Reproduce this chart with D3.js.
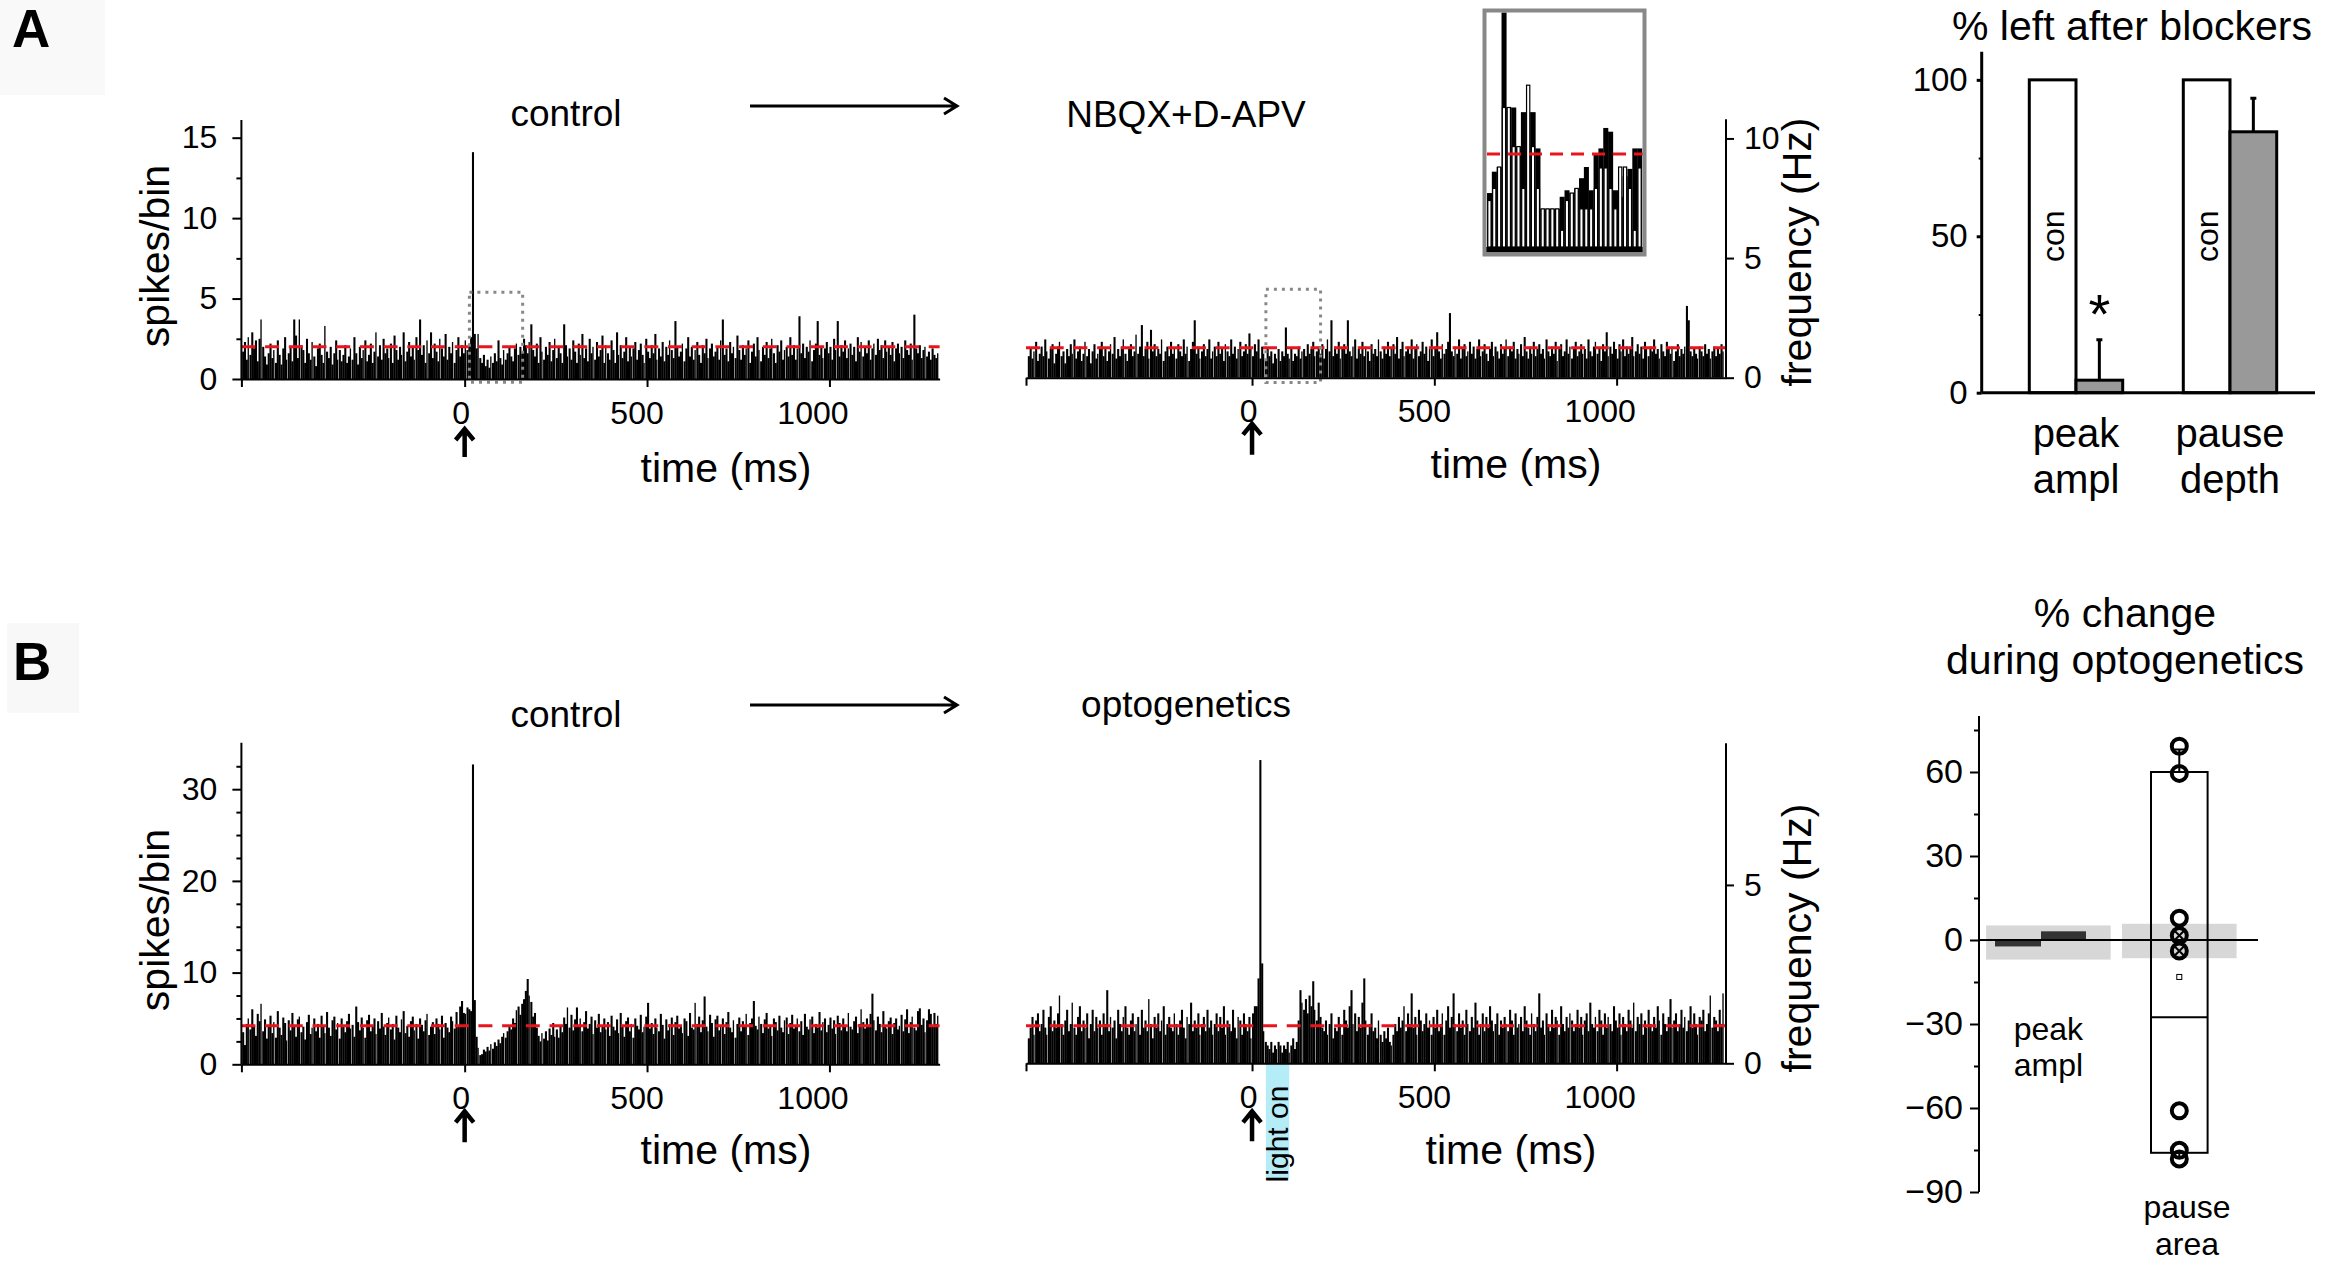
<!DOCTYPE html>
<head>
<meta charset="utf-8">
<style>
  body { margin: 0; background: #fff; }
  svg text { font-family: "Liberation Sans", Arial, Helvetica, sans-serif; fill: #000; }
  .axis path, .axis line { stroke: #000; stroke-width: 2px; fill: none; }
  .axis text { font-family: "Liberation Sans", Arial, Helvetica, sans-serif; }
</style>
<title>PSTH figure</title>
<script src="https://d3js.org/d3.v7.min.js"></script>
</head>
<body>
<svg id="fig" width="2325" height="1268"></svg>
<script>
// ---- data ----
var BIN = 5; // ms per bin

// A, control (spikes/bin), bins from -610 ms
var aControl = [
1.7,2.3,1.2,2.6,1.5,2.9,1.9,2.4,1.1,2.5,3.7,2.0,1.4,0.9,1.6,2.2,1.3,1.8,1.0,2.4,
1.5,0.9,1.9,2.6,1.2,1.6,2.0,1.1,3.7,2.7,1.3,3.7,2.1,1.8,1.0,2.5,1.6,1.2,2.3,1.4,
0.8,1.9,2.2,1.5,1.0,3.3,1.7,1.3,2.0,0.9,1.6,2.4,1.2,1.8,1.1,1.5,2.1,1.0,1.4,1.9,
1.2,2.6,1.6,0.9,2.0,1.3,1.8,2.4,1.1,1.5,2.2,1.0,1.7,2.9,1.4,2.1,1.2,2.5,1.6,1.9,
1.3,2.2,1.0,2.7,1.8,1.2,2.0,1.5,2.9,1.1,1.7,2.3,1.4,2.0,1.2,2.6,1.8,3.7,1.5,2.1,
1.0,2.4,1.6,2.9,1.3,2.2,1.7,1.1,2.5,1.9,1.4,2.8,1.2,2.0,1.6,2.3,1.0,1.8,2.6,1.4,
2.1,1.6,2.4,1.8,2.2,2.6,14.1,2.8,1.9,2.8,1.3,1.0,1.5,0.8,1.2,0.7,1.4,1.0,1.6,1.1,
2.4,1.3,0.9,1.8,1.2,1.6,2.0,1.4,1.1,1.9,2.2,1.5,2.0,1.7,2.5,2.1,1.6,2.3,3.4,1.8,
1.4,2.2,1.0,2.6,1.7,1.2,2.0,1.5,2.3,1.1,1.8,2.5,1.3,2.0,1.6,1.0,3.4,2.1,1.4,1.9,
1.2,2.4,1.7,1.0,2.2,1.5,2.8,1.3,1.9,1.1,2.5,1.6,2.0,1.2,2.3,1.4,1.8,2.7,1.0,2.1,
1.6,1.2,2.4,1.8,1.0,2.9,1.5,2.1,1.3,1.7,2.6,1.1,2.0,1.4,1.9,2.3,1.2,1.8,2.2,1.5,
1.0,2.5,1.7,1.3,2.1,1.6,2.8,1.2,1.9,1.4,2.3,1.1,2.0,1.5,2.4,1.8,1.3,3.6,2.0,1.4,
1.7,2.2,1.1,1.9,2.6,1.4,2.0,1.2,1.8,2.3,1.5,1.0,2.1,1.6,2.5,1.3,1.9,2.2,1.4,1.7,
2.0,1.2,2.4,3.7,1.5,1.9,1.1,2.3,1.6,2.0,1.3,2.7,1.8,1.2,2.1,1.5,1.9,2.4,1.0,1.7,
2.2,1.4,2.6,1.8,1.1,2.0,1.5,2.3,1.3,1.9,2.5,1.6,1.0,2.1,1.7,2.4,1.2,1.8,2.0,1.4,
2.6,1.5,2.1,1.2,1.9,3.9,1.6,2.2,1.3,2.0,1.7,2.4,1.1,1.8,2.2,3.6,1.5,2.0,1.3,1.9,
2.3,1.6,2.0,1.2,2.5,1.8,3.6,1.4,2.1,1.7,2.4,1.3,1.9,2.2,1.5,2.0,1.1,2.6,1.7,2.3,
1.4,2.0,1.6,2.4,1.2,1.9,2.2,1.5,2.5,1.8,2.1,1.3,2.4,1.7,2.0,1.5,2.3,1.1,1.9,2.2,
1.6,2.0,1.3,2.4,1.8,1.5,2.2,1.2,4.0,1.9,1.6,2.1,1.3,1.8,2.0,1.4,1.7,1.2,1.9,1.5,
1.3,1.6];
var aControlMean = 2.0;

// A, NBQX+D-APV (Hz), bins from -615 ms
var aBlocker = [
0.9,1.2,0.8,1.1,1.5,0.7,1.0,1.3,0.9,1.6,1.1,0.8,1.2,1.4,0.6,1.0,1.3,1.5,0.9,1.1,
0.6,1.2,0.9,1.4,1.0,1.6,0.8,1.1,1.3,0.7,1.0,1.5,0.9,1.2,0.6,1.1,1.4,0.8,1.0,1.3,
1.5,0.9,1.2,0.7,1.1,1.4,1.0,1.7,0.8,1.2,0.9,1.3,1.6,1.0,0.7,1.2,1.4,0.9,1.1,1.8,
1.0,1.3,2.2,0.9,1.2,1.5,0.8,2.0,1.1,1.4,0.9,1.2,1.0,1.6,0.7,1.1,1.3,0.9,1.5,1.0,
1.2,0.8,1.4,1.1,0.9,1.6,1.0,1.3,0.7,1.2,1.5,2.4,1.0,1.3,0.8,1.1,1.4,0.9,1.2,1.6,
0.8,1.1,1.3,0.9,1.5,1.0,1.2,0.7,1.4,1.1,0.9,1.6,1.0,1.3,0.8,1.2,1.5,0.9,1.1,1.4,
1.0,1.85,1.2,0.9,1.4,1.1,1.6,0.8,1.3,1.0,0.7,1.2,0.9,1.1,0.6,1.0,0.8,1.2,0.7,1.1,
0.9,2.1,1.0,0.8,1.2,0.7,1.0,0.9,1.3,0.8,1.1,1.2,0.9,1.4,1.0,1.2,1.5,0.9,1.1,1.3,
1.0,1.4,0.8,1.2,1.6,1.1,2.4,0.9,1.3,1.0,1.5,0.8,1.2,1.4,1.0,2.4,1.1,0.9,1.3,1.6,
0.8,1.2,1.0,1.5,0.9,1.3,1.1,0.7,1.4,1.0,1.2,0.9,1.6,1.1,0.8,1.3,1.0,1.5,0.9,1.2,
1.4,1.0,1.7,0.8,1.2,1.5,0.9,1.1,1.3,1.0,1.6,0.8,1.2,1.4,0.9,1.1,1.5,1.0,1.3,0.7,
1.2,1.6,0.9,1.3,1.9,1.1,0.8,1.4,1.0,1.2,1.5,2.7,1.1,0.9,1.3,1.0,1.6,0.8,1.2,1.4,
0.9,1.1,1.5,1.0,1.3,0.8,1.2,1.6,0.9,1.1,1.4,1.0,0.7,1.2,1.5,0.9,1.3,1.1,0.8,1.4,
1.0,1.2,1.6,0.9,1.3,1.1,1.5,0.8,1.2,1.0,1.4,0.9,1.7,1.1,0.8,1.3,1.0,1.5,0.9,1.2,
1.4,1.0,1.2,0.8,1.6,1.1,0.9,1.3,1.0,1.5,0.7,1.2,1.4,0.9,1.1,1.6,1.0,1.3,0.8,1.2,
1.5,0.9,1.1,1.4,1.0,1.2,0.8,1.6,1.1,0.9,1.3,1.5,1.0,1.2,0.7,1.4,1.1,1.9,0.9,1.3,
1.0,1.5,1.2,0.8,1.4,1.1,1.6,0.9,1.3,1.0,1.2,1.7,0.9,1.1,1.4,1.0,1.3,0.8,1.5,1.2,
0.9,1.3,1.1,1.6,1.0,1.2,0.8,1.4,1.1,0.9,1.5,1.2,1.0,1.3,0.7,1.1,1.4,0.9,1.2,1.0,
1.3,3.0,2.4,1.1,0.9,1.2,1.0,0.8,1.3,1.1,0.9,1.4,1.0,1.2,0.8,1.1,1.3,0.9,1.2,1.0,
1.4,1.1];
var aBlockerMean = 1.25;

// inset: 0-160 ms window, relative to baseline (1 = red line)
var insetControl = [0.58,0.81,0.86,2.6,1.5,1.5,1.08,1.45,1.45,1.45,1.06,0.41,0.41,0.41,0.41,0.54,
                    0.61,0.58,0.63,0.74,0.86,0.61,1.01,1.06,1.28,1.24,0.61,0.54,0.76,0.84,1.06,1.06];
var insetBlocker = [0.5,0.63,0.86,1.5,1.5,1.08,1.08,0.63,1.74,1.08,0.63,0.41,0.41,0.41,0.41,0.18,
                    0.5,0.58,0.63,0.41,0.41,0.41,0.63,0.85,0.85,0.63,0.41,0.86,0.86,0.63,0.18,0.85];

// B, control (spikes/bin), bins from -610 ms
var bControl = [
3.5,2.1,4.4,5.0,3.8,6.0,4.2,3.1,5.5,4.7,6.6,3.6,4.9,2.8,4.1,5.3,3.4,4.6,2.9,5.8,
4.0,3.2,5.1,4.5,2.6,4.8,3.7,5.6,4.3,3.0,4.9,5.2,3.5,4.1,2.7,4.6,5.4,3.3,4.0,5.0,
3.6,4.4,2.9,5.3,4.1,3.4,5.7,4.0,3.1,4.8,5.2,3.8,4.5,2.8,5.0,4.2,3.5,4.7,5.5,3.9,
4.3,3.0,6.3,4.6,3.7,5.1,4.0,2.9,4.8,5.4,3.6,4.2,5.0,3.3,4.7,3.9,5.6,4.1,3.2,4.5,
5.1,3.8,4.4,2.7,5.3,4.0,3.5,4.9,5.8,3.4,4.2,3.0,4.7,5.2,3.7,4.4,2.8,5.0,4.3,3.6,
4.8,5.5,3.2,4.1,4.6,3.3,5.0,4.4,3.8,5.3,2.9,4.5,4.0,3.5,5.2,4.7,3.9,5.7,4.2,6.3,
6.9,5.6,5.5,6.2,6.0,5.8,32.7,7.0,3.0,1.8,1.0,1.1,1.6,1.4,1.9,1.5,2.2,1.7,2.4,2.0,
2.7,2.3,3.0,3.4,2.9,3.6,4.1,3.8,5.0,4.5,5.9,6.3,5.4,6.6,7.1,8.0,9.3,7.5,6.8,5.2,
5.6,4.0,3.1,2.5,3.4,2.8,3.6,2.6,3.9,3.2,4.5,3.0,3.8,2.9,4.2,3.5,5.1,4.4,6.2,4.0,
5.4,3.7,4.9,6.2,4.3,5.0,3.6,4.6,5.8,3.9,4.4,5.2,3.3,4.8,4.0,5.5,3.5,4.2,5.0,3.8,
4.6,3.1,5.3,4.1,3.7,4.9,3.4,5.6,4.3,3.0,4.7,5.1,3.6,4.4,2.9,5.0,4.2,3.8,5.4,3.5,
4.1,5.2,6.7,3.9,4.5,3.3,5.0,4.0,3.6,5.5,4.3,2.8,4.9,3.7,4.4,5.1,3.2,4.6,5.3,3.9,
4.2,3.4,5.0,4.7,3.1,5.6,4.0,3.8,6.7,4.4,5.2,3.5,4.8,7.4,4.1,3.6,5.4,4.5,3.0,4.9,
5.3,3.7,4.3,5.0,3.3,4.6,5.7,4.0,3.5,4.8,2.9,4.4,5.1,3.6,4.7,4.1,5.5,3.2,4.5,5.0,
6.9,4.2,3.8,5.2,4.4,3.4,4.9,5.6,3.9,4.3,3.1,5.0,4.6,3.7,5.3,4.0,3.5,4.8,5.1,3.3,
4.5,5.4,3.9,4.2,5.0,3.6,4.7,3.2,5.5,4.1,3.8,4.9,5.2,3.4,4.4,4.0,5.7,3.7,4.6,5.0,
3.5,4.3,5.1,3.9,4.8,3.3,5.3,4.5,3.7,5.0,4.2,3.6,5.6,4.1,3.8,4.7,5.2,3.4,4.4,6.0,
4.6,3.9,5.0,4.3,5.5,7.7,4.8,3.7,5.2,4.4,3.5,5.8,4.1,3.9,4.7,5.1,3.3,4.5,5.0,3.8,
4.2,5.4,3.6,4.9,6.0,3.4,4.6,5.2,4.0,3.7,5.8,6.1,4.3,5.0,3.5,4.8,6.0,5.5,4.1,5.6,
4.4,5.3];
var bControlMean = 4.2;

// B, optogenetics (Hz), bins from -615 ms
var bOpto = [
0.7,1.0,1.3,0.8,1.2,1.4,0.9,1.1,1.5,1.0,0.8,1.3,1.6,0.9,1.2,1.0,1.4,1.9,1.1,0.8,
1.2,1.5,0.9,1.1,1.7,1.0,0.8,1.3,1.6,0.9,1.2,1.0,1.4,0.7,1.1,1.5,0.9,1.3,1.0,1.2,
0.8,1.4,1.1,2.05,0.9,1.3,1.0,1.2,0.7,1.5,1.1,0.9,1.3,1.6,1.0,0.8,1.2,1.4,0.9,1.1,
1.3,0.8,1.5,1.0,1.2,0.9,1.8,1.1,0.7,1.3,1.0,1.4,0.9,1.2,1.6,0.8,1.1,1.3,1.0,0.9,
1.4,1.1,0.8,1.2,1.5,1.0,0.7,1.3,1.1,1.7,0.9,1.2,1.0,1.4,0.8,1.1,1.3,0.9,1.5,1.0,
1.2,0.8,1.1,1.4,0.9,1.3,1.0,1.6,0.8,1.2,1.1,0.9,1.5,1.0,0.7,1.3,1.2,0.8,1.4,1.1,
0.9,1.3,0.7,1.4,1.6,1.6,2.38,8.5,2.8,0.9,0.6,0.5,0.4,0.6,0.3,0.5,0.4,0.6,0.5,0.3,
0.5,0.4,0.6,0.3,0.5,0.7,0.4,0.6,1.2,2.05,1.7,1.5,1.8,1.4,1.9,1.6,2.3,1.5,1.2,1.7,
1.3,1.0,0.9,1.2,0.8,1.1,1.4,0.7,1.0,0.9,1.3,1.1,0.8,1.5,1.2,1.0,1.6,2.05,1.1,1.4,
0.9,1.3,1.0,1.7,2.38,1.2,0.8,1.1,1.4,0.9,1.0,0.7,1.2,0.8,0.6,0.9,0.7,1.0,0.6,0.5,
0.8,1.1,0.9,1.3,1.0,1.2,1.6,0.9,1.4,1.1,1.96,1.0,1.3,0.8,1.5,1.2,0.9,1.1,1.4,1.0,
1.2,0.8,1.3,1.0,1.5,0.9,1.1,1.4,0.8,1.2,1.6,1.0,1.3,1.96,1.1,0.9,1.4,1.0,1.2,0.8,
1.5,1.1,0.9,1.3,1.0,1.7,1.2,0.8,1.1,1.4,0.9,1.3,1.0,1.6,1.2,0.9,1.1,1.4,0.8,1.2,
1.0,1.3,1.1,0.9,1.5,1.2,0.8,1.4,1.0,1.1,1.3,0.9,1.6,1.2,1.0,0.8,1.4,1.1,0.9,1.3,
1.96,1.0,1.2,0.8,1.4,1.1,0.9,1.5,1.0,1.3,1.2,0.8,1.6,1.1,0.9,1.3,1.0,1.4,1.2,0.9,
1.1,1.5,1.0,1.3,0.8,1.2,1.4,0.9,1.7,1.1,1.0,1.3,0.9,1.5,1.2,0.8,1.4,1.0,1.3,1.1,
0.9,1.6,1.2,1.0,1.4,0.8,1.3,1.1,0.9,1.5,1.2,1.0,1.7,0.9,1.3,1.1,1.4,0.8,1.2,1.0,
1.5,1.1,0.9,1.3,1.0,1.6,1.2,0.8,1.4,1.1,0.9,1.3,1.8,1.0,1.2,1.4,0.9,1.1,1.5,1.0,
1.3,0.9,1.2,1.6,1.0,1.4,1.1,0.8,1.3,1.2,1.5,0.9,1.1,1.4,1.9,1.0,1.3,1.2,0.9,1.5,
1.1,1.96];
var bOptoMean = 1.05;
var lightOn = [38, 102]; // ms

// A right: % left after blockers
var blockerCats = ["peak ampl", "pause depth"];
var blockerCon = [100, 100];
var blockerLeft = [4, 83.4];
var blockerErr = [12.9, 10.7];

// B right: % change during optogenetics
var optoCats = ["peak ampl", "pause area"];
var peakChange = [-2.3, 3.1];
var sdBand = [[-7, 5.2], [-6.5, 5.8]];
var pausePoints = [69.2, 59.5, 7.8, 1.6, -3.9, -61, -75.1, -78.2];
var pauseBox = {q1: -76, median: -27.6, q3: 60, lo: -77.5, hi: 68, mean: -13.2};
var pauseCross = [1.6, -3.9];

// ---- drawing ----
var svg = d3.select("#fig");

function txt(x, y, s, size, opt) {
  opt = opt || {};
  var t = svg.append("text")
    .attr("x", x).attr("y", y)
    .attr("font-size", size)
    .attr("text-anchor", opt.anchor || "middle")
    .text(s);
  if (opt.rotate) t.attr("transform", "rotate(-90," + x + "," + y + ")");
  if (opt.weight) t.attr("font-weight", opt.weight);
  return t;
}

function upArrow(x, yTop, yBot) {
  svg.append("path")
    .attr("d", "M" + x + "," + yBot + "L" + x + "," + (yTop + 3) +
      "M" + (x - 9) + "," + (yTop + 12) + "L" + x + "," + (yTop + 1) + "L" + (x + 9) + "," + (yTop + 12))
    .attr("stroke", "#000").attr("stroke-width", 4.5).attr("fill", "none");
}

function rightArrow(x1, x2, y) {
  svg.append("path")
    .attr("d", "M" + x1 + "," + y + "L" + x2 + "," + y +
      "M" + (x2 - 13) + "," + (y - 8) + "L" + x2 + "," + y + "L" + (x2 - 13) + "," + (y + 8))
    .attr("stroke", "#000").attr("stroke-width", 3).attr("fill", "none");
}

function drawHist(cfg) {
  var x = d3.scaleLinear().domain(cfg.xDomain).range(cfg.xRange);
  var y = d3.scaleLinear().domain(cfg.yDomain).range(cfg.yRange);
  var g = svg.append("g");
  var w = x(BIN) - x(0);

  if (cfg.light) {
    g.append("rect")
      .attr("x", x(cfg.light[0])).attr("y", y(0))
      .attr("width", x(cfg.light[1]) - x(cfg.light[0]))
      .attr("height", 115)
      .attr("fill", "#b4ecf8");
  }

  g.selectAll("rect.bin")
    .data(cfg.values)
    .enter().append("rect")
    .attr("class", "bin")
    .attr("x", function (d, i) { return x(cfg.start + i * BIN); })
    .attr("y", function (d) { return y(d); })
    .attr("width", function (d, i) { return i % 7 === 3 ? w - 0.5 : w + 0.25; })
    .attr("height", function (d) { return y(0) - y(d); })
    .attr("fill", "#000");

  // mean rate
  g.append("line")
    .attr("x1", cfg.xRange[0]).attr("x2", cfg.xRange[1])
    .attr("y1", y(cfg.mean)).attr("y2", y(cfg.mean))
    .attr("stroke", "#e8161c").attr("stroke-width", 3)
    .attr("stroke-dasharray", "14,9.7");

  if (cfg.box) {
    g.append("rect")
      .attr("x", x(cfg.box[0])).attr("y", y(cfg.box[3]))
      .attr("width", x(cfg.box[1]) - x(cfg.box[0]))
      .attr("height", y(cfg.box[2]) - y(cfg.box[3]))
      .attr("fill", "none").attr("stroke", "#888")
      .attr("stroke-width", 3).attr("stroke-dasharray", "3,5");
  }

  var xAxis = d3.axisBottom(x)
    .tickValues([cfg.xDomain[0], 0, 500, 1000])
    .tickSizeInner(8).tickSizeOuter(0).tickPadding(14)
    .tickFormat(function (d) { return d === cfg.xDomain[0] ? "" : d; });
  var gx = g.append("g").attr("class", "axis")
    .attr("transform", "translate(0," + y(0) + ")")
    .call(xAxis);
  gx.selectAll("text").attr("font-size", 32)
    .attr("dx", function (d) { return -4 - d * 0.013; });

  var yAxis, gy;
  if (cfg.side === "left") {
    yAxis = d3.axisLeft(y).tickValues(cfg.yTicks).tickSizeInner(9).tickSizeOuter(0).tickPadding(15);
    gy = g.append("g").attr("class", "axis")
      .attr("transform", "translate(" + cfg.xRange[0] + ",0)").call(yAxis);
    if (cfg.yMinor) {
      g.append("g").attr("class", "axis")
        .attr("transform", "translate(" + cfg.xRange[0] + ",0)")
        .call(d3.axisLeft(y).tickValues(cfg.yMinor).tickSizeInner(5).tickSizeOuter(0).tickFormat(""))
        .select("path").remove();
    }
  } else {
    yAxis = d3.axisRight(y).tickValues(cfg.yTicks).tickSizeInner(8).tickSizeOuter(0).tickPadding(10);
    gy = g.append("g").attr("class", "axis")
      .attr("transform", "translate(" + cfg.xRange[1] + ",0)").call(yAxis);
  }
  gy.select("path").attr("d", "M0," + cfg.yRange[0] + "V" + cfg.yRange[1]);
  gy.selectAll("text").attr("font-size", 32);

  upArrow(x(0), y(0) + cfg.arrow[0], y(0) + cfg.arrow[1]);
  return {x: x, y: y};
}

// panel letters
svg.append("rect").attr("x", 0).attr("y", 0).attr("width", 105).attr("height", 95).attr("fill", "#f9f9f9");
svg.append("rect").attr("x", 7).attr("y", 623).attr("width", 72).attr("height", 90).attr("fill", "#f8f8f8");
txt(12, 47, "A", 53, {anchor: "start", weight: "bold"});
txt(13, 680, "B", 53, {anchor: "start", weight: "bold"});

// ---- panel A histograms ----
drawHist({values: aControl, start: -610, mean: aControlMean,
  xDomain: [-612, 1302], xRange: [241.4, 939.6],
  yDomain: [0, 16.1], yRange: [379, 120],
  side: "left", yTicks: [0, 5, 10, 15], yMinor: [2.5, 7.5, 12.5],
  box: [13, 159, -0.2, 5.4], arrow: [49, 78]});
drawHist({values: aBlocker, start: -615, mean: aBlockerMean,
  xDomain: [-620, 1300], xRange: [1026, 1726],
  yDomain: [0, 10.8], yRange: [377.7, 119.3],
  side: "right", yTicks: [0, 5, 10],
  box: [38, 188, -0.2, 3.7], arrow: [45, 77]});

txt(566, 126, "control", 37);
rightArrow(750, 957, 106);
txt(1186, 127, "NBQX+D-APV", 37);
txt(169, 256, "spikes/bin", 41, {rotate: true});
txt(1811, 252, "frequency (Hz)", 41, {rotate: true});
txt(726, 482, "time (ms)", 41);
txt(1516, 478, "time (ms)", 41);

// inset
(function () {
  var ix = d3.scaleLinear().domain([0, insetControl.length]).range([1487, 1642]);
  var iy = d3.scaleLinear().domain([0, 1]).range([247, 154]);
  var defs = svg.append("defs");
  defs.append("clipPath").attr("id", "insetClip").append("rect")
    .attr("x", 1486).attr("y", 12.5).attr("width", 157).attr("height", 240);
  var g = svg.append("g").attr("clip-path", "url(#insetClip)");
  var bw = ix(1) - ix(0);
  g.selectAll("rect.c").data(insetControl).enter().append("rect")
    .attr("x", function (d, i) { return ix(i); })
    .attr("y", function (d) { return iy(d); })
    .attr("width", bw + 0.2).attr("height", function (d) { return iy(0) - iy(d); })
    .attr("fill", "#000");
  g.selectAll("rect.b").data(insetBlocker).enter().append("rect")
    .attr("x", function (d, i) { return ix(i) + 0.8; })
    .attr("y", function (d) { return iy(d); })
    .attr("width", bw - 1.6).attr("height", function (d) { return iy(0) - iy(d); })
    .attr("fill", "#fff").attr("stroke", "#000").attr("stroke-width", 1.2);
  g.append("rect").attr("x", 1486).attr("y", iy(0)).attr("width", 157).attr("height", 6).attr("fill", "#000");
  g.append("line").attr("x1", 1487).attr("x2", 1643).attr("y1", iy(1)).attr("y2", iy(1))
    .attr("stroke", "#e8161c").attr("stroke-width", 3).attr("stroke-dasharray", "13,8");
  svg.append("rect").attr("x", 1484.5).attr("y", 10.5).attr("width", 160).attr("height", 244)
    .attr("fill", "none").attr("stroke", "#888").attr("stroke-width", 4);
})();

// ---- panel A bar chart ----
(function () {
  var y = d3.scaleLinear().domain([0, 109]).range([392.7, 51.7]);
  var x = d3.scalePoint().domain(blockerCats).range([2076, 2230]);
  var bw = 46.7;
  var g = svg.append("g");
  g.append("g").attr("class", "axis")
    .attr("transform", "translate(1981.7,0)")
    .call(d3.axisLeft(y).tickValues([0, 50, 100]).tickSizeInner(5).tickSizeOuter(0).tickPadding(9))
    .call(function (s) {
      s.select("path").attr("d", "M0," + y(0) + "V" + y(109)).style("stroke-width", 3);
      s.selectAll("line").style("stroke-width", 3);
      s.selectAll("text").attr("font-size", 33);
    });
  g.append("g").attr("class", "axis")
    .attr("transform", "translate(1981.7,0)")
    .call(d3.axisLeft(y).tickValues([25, 75]).tickSizeInner(3).tickSizeOuter(0).tickFormat(""))
    .select("path").remove();

  blockerCats.forEach(function (c, i) {
    var cx = x(c);
    g.append("rect").attr("x", cx - bw).attr("y", y(blockerCon[i]))
      .attr("width", bw).attr("height", y(0) - y(blockerCon[i]))
      .attr("fill", "#fff").attr("stroke", "#000").attr("stroke-width", 3);
    var top = y(blockerLeft[i] + blockerErr[i]);
    g.append("path")
      .attr("d", "M" + (cx + bw / 2) + "," + y(blockerLeft[i]) + "V" + top + "M" + (cx + bw / 2 - 3) + "," + top + "H" + (cx + bw / 2 + 3))
      .attr("stroke", "#000").attr("stroke-width", 3);
    g.append("rect").attr("x", cx).attr("y", y(blockerLeft[i]))
      .attr("width", bw).attr("height", y(0) - y(blockerLeft[i]))
      .attr("fill", "#999").attr("stroke", "#000").attr("stroke-width", 3);
    txt(cx - bw / 2 + 11, y(50), "con", 32, {rotate: true});
  });
  g.append("line").attr("x1", 1981.7).attr("x2", 2315).attr("y1", y(0)).attr("y2", y(0))
    .attr("stroke", "#000").attr("stroke-width", 3);
  txt(x("peak ampl") + bw / 2, 333, "*", 56);
  txt(2132, 40, "% left after blockers", 41);
  txt(x("peak ampl"), 447, "peak", 40);
  txt(x("peak ampl"), 493, "ampl", 40);
  txt(x("pause depth"), 447, "pause", 40);
  txt(x("pause depth"), 493, "depth", 40);
})();

// ---- panel B histograms ----
var bMinor = d3.range(2.5, 35, 2.5).filter(function (v) { return v % 10 !== 0; });
drawHist({values: bControl, start: -610, mean: bControlMean,
  xDomain: [-612, 1302], xRange: [241.4, 939.6],
  yDomain: [0, 35.07], yRange: [1064.3, 742.7],
  side: "left", yTicks: [0, 10, 20, 30], yMinor: bMinor, arrow: [46, 78]});
drawHist({values: bOpto, start: -615, mean: bOptoMean,
  xDomain: [-620, 1300], xRange: [1026, 1726],
  yDomain: [0, 8.97], yRange: [1063.3, 743.3],
  side: "right", yTicks: [0, 5], light: lightOn, arrow: [47, 78]});

txt(566, 727, "control", 37);
rightArrow(750, 957, 705);
txt(1186, 717, "optogenetics", 37);
txt(169, 920, "spikes/bin", 41, {rotate: true});
txt(1811, 938, "frequency (Hz)", 41, {rotate: true});
txt(726, 1164, "time (ms)", 41);
txt(1511, 1164, "time (ms)", 41);
txt(1288, 1134, "light on", 30, {rotate: true});

// ---- panel B box plot ----
(function () {
  var y = d3.scaleLinear().domain([-90, 80]).range([1192, 716]);
  var x = d3.scalePoint().domain(optoCats).range([2048.4, 2179.3]);
  var g = svg.append("g");
  var bandHalf = [62.3, 57.3];

  optoCats.forEach(function (c, i) {
    g.append("rect").attr("x", x(c) - bandHalf[i]).attr("y", y(sdBand[i][1]))
      .attr("width", 2 * bandHalf[i]).attr("height", y(sdBand[i][0]) - y(sdBand[i][1]))
      .attr("fill", "#d7d7d7");
  });

  // peak amplitude bars
  var pOff = [[-53.4, -7.4], [-7.4, 37.6]];
  peakChange.forEach(function (v, i) {
    g.append("rect")
      .attr("x", x("peak ampl") + pOff[i][0])
      .attr("y", y(Math.max(v, 0)))
      .attr("width", pOff[i][1] - pOff[i][0])
      .attr("height", Math.abs(y(v) - y(0)))
      .attr("fill", "#333");
  });

  var cx = x("pause area"), bh = 28.3;
  g.append("rect").attr("x", cx - bh).attr("y", y(pauseBox.q3))
    .attr("width", 2 * bh).attr("height", y(pauseBox.q1) - y(pauseBox.q3))
    .attr("fill", "none").attr("stroke", "#000").attr("stroke-width", 2);
  g.append("line").attr("x1", cx - bh).attr("x2", cx + bh)
    .attr("y1", y(pauseBox.median)).attr("y2", y(pauseBox.median))
    .attr("stroke", "#000").attr("stroke-width", 2);
  g.append("path")
    .attr("d", "M" + cx + "," + y(pauseBox.q3) + "V" + y(pauseBox.hi) + "M" + (cx - 5) + "," + y(pauseBox.hi) + "H" + (cx + 5) +
      "M" + cx + "," + y(pauseBox.q1) + "V" + y(pauseBox.lo) + "M" + (cx - 5) + "," + y(pauseBox.lo) + "H" + (cx + 5))
    .attr("stroke", "#000").attr("stroke-width", 2);

  g.append("line").attr("x1", 1979).attr("x2", 2258).attr("y1", y(0)).attr("y2", y(0))
    .attr("stroke", "#000").attr("stroke-width", 2);

  g.selectAll("circle.pt").data(pausePoints).enter().append("circle")
    .attr("cx", cx).attr("cy", function (d) { return y(d); })
    .attr("r", 7.5).attr("fill", "none").attr("stroke", "#000").attr("stroke-width", 4);
  pauseCross.forEach(function (v) {
    g.append("path")
      .attr("d", "M" + (cx - 5) + "," + (y(v) - 5) + "L" + (cx + 5) + "," + (y(v) + 5) +
        "M" + (cx - 5) + "," + (y(v) + 5) + "L" + (cx + 5) + "," + (y(v) - 5))
      .attr("stroke", "#000").attr("stroke-width", 2);
  });
  g.append("rect").attr("x", cx - 2.5).attr("y", y(pauseBox.mean) - 2.5)
    .attr("width", 5).attr("height", 5).attr("fill", "#fff").attr("stroke", "#000").attr("stroke-width", 1);

  g.append("g").attr("class", "axis")
    .attr("transform", "translate(1979,0)")
    .call(d3.axisLeft(y).tickValues([-90, -60, -30, 0, 30, 60]).tickSizeInner(9).tickSizeOuter(0).tickPadding(7))
    .call(function (s) {
      s.select("path").attr("d", "M0," + y(-90) + "V" + y(80));
      s.selectAll("text").attr("font-size", 34);
    });
  g.append("g").attr("class", "axis")
    .attr("transform", "translate(1979,0)")
    .call(d3.axisLeft(y).tickValues([-75, -45, -15, 15, 45, 75]).tickSizeInner(5).tickSizeOuter(0).tickFormat(""))
    .select("path").remove();

  txt(2125, 627, "% change", 41);
  txt(2125, 674, "during optogenetics", 41);
  txt(x("peak ampl"), 1040, "peak", 32);
  txt(x("peak ampl"), 1076, "ampl", 32);
  txt(2187, 1218, "pause", 32);
  txt(2187, 1255, "area", 32);
})();
</script>
</body>
